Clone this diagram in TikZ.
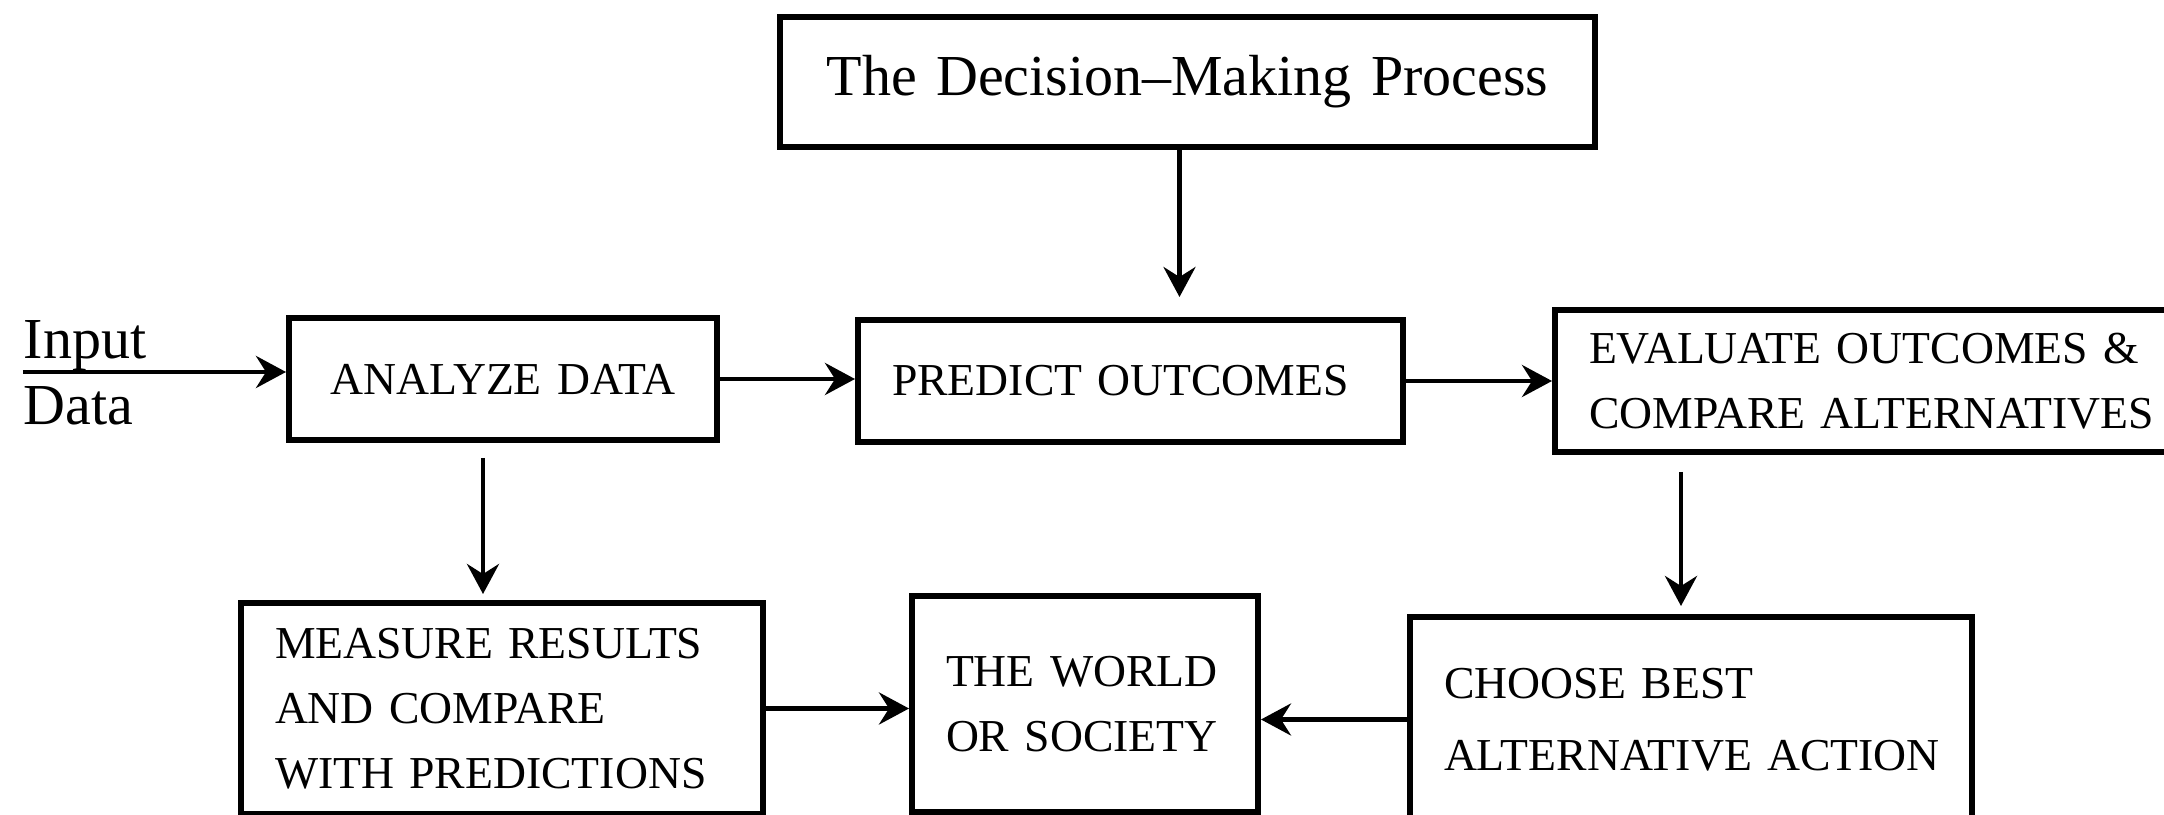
\documentclass[tikz,border=0pt]{standalone}
\usepackage{fontspec}
\setmainfont{Liberation Serif}
\newfontfamily\boxfamily[WordSpace=1.6]{Liberation Serif}
\usetikzlibrary{arrows.meta}

\begin{document}
\begin{tikzpicture}[every node/.style={align=left},
    box/.style={draw, line width=1.7pt, inner xsep=.34cm, inner ysep=0pt,
      font=\boxfamily\fontsize{13}{18.5}\selectfont},
    big/.style={font=\boxfamily\fontsize{16.5}{20}\selectfont},
    arr/.style={line width=1.3pt, -{Stealth[length=.3cm, width=.32cm, inset=.1cm]}}]

\path[use as bounding box, fill=white] (0,0) rectangle (21.64,-8.15);

% top row ---
\node (title) [box, big, align=center, text width=7.47cm, minimum height=1.30cm] at (11.875,-.82) {The Decision–Making Process};

\node (inputlab) [big, anchor=base west, inner sep=0pt] at (.23,-3.59) {Input};
\node (datalab) [big, anchor=base west, inner sep=0pt] at (.23,-4.25) {Data};
\coordinate (feed) at (.23,-3.72);

\node (analyze) [box, align=center, inner xsep=.2cm, text width=3.88cm, minimum height=1.22cm] at (5.03,-3.79) {\mbox{ANALYZE DATA}};
\node (predict) [box, text width=4.77cm, minimum height=1.22cm] at (11.305,-3.81) {\mbox{PREDICT OUTCOMES}};
\node (evaluate) [box, text width=5.92cm, minimum height=1.42cm] at (18.85,-3.81) {\mbox{EVALUATE OUTCOMES \&}\\\mbox{COMPARE ALTERNATIVES}};

% bottom row ---
\node (measure) [box, text width=4.54cm, minimum height=2.11cm] at (5.02,-7.085) {\mbox{MEASURE RESULTS}\\\mbox{AND COMPARE}\\\mbox{WITH PREDICTIONS}};
\node (world) [box, text width=2.78cm, minimum height=2.16cm] at (10.85,-7.04) {\mbox{THE WORLD}\\\mbox{OR SOCIETY}};
\node (choose) [box, text width=4.94cm, minimum height=2.05cm] at (16.91,-7.195) {\mbox{CHOOSE BEST}\\[2pt]\mbox{ALTERNATIVE ACTION}};

\coordinate (down0) at ([xshift=-.08cm]title.south);
\coordinate (down1) at ([xshift=-.19cm]measure.north);
\coordinate (down2) at ([xshift=-.1cm]choose.north);

% arrows ---
\draw [arr] (feed) -- (feed -| analyze.west);
\draw [arr] (analyze.east) -- (analyze.east -| predict.west);
\draw [arr] (predict.east) -- (predict.east -| evaluate.west);
\draw [arr, shorten >=.2cm] (down0) -- (down0 |- predict.north);
\draw [arr, shorten <=.15cm, shorten >=.06cm] (analyze.south -| down1) -- (down1);
\draw [arr, shorten <=.17cm, shorten >=.08cm] (evaluate.south -| down2) -- (down2);
\draw [arr] (measure.east) -- (measure.east -| world.west);
\draw [arr] (choose.west) -- (choose.west -| world.east);

\end{tikzpicture}
\end{document}
